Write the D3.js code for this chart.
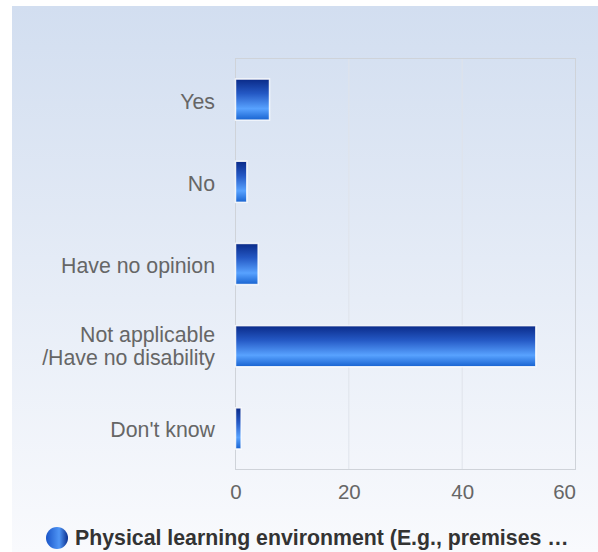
<!DOCTYPE html>
<html><head><meta charset="utf-8">
<script src="https://cdn.jsdelivr.net/npm/d3@7"></script>
<style>body{margin:0;background:#fff;}svg{display:block;}</style>
</head><body>
<script>
const categories = ["Yes", "No", "Have no opinion", "Not applicable\n/Have no disability", "Don't know"];
const values = [6, 2, 4, 53, 1];
const xTicks = [0, 20, 40, 60];
const seriesName = "Physical learning environment (E.g., premises \u2026";

(function(){
const W = 598, H = 552;
const FONT = "Liberation Sans, Arial, sans-serif";
const svg = d3.select("body").append("svg").attr("width", W).attr("height", H);
const defs = svg.append("defs");
const bg = defs.append("linearGradient").attr("id","bg").attr("x1",0).attr("y1",0).attr("x2",0).attr("y2",1);
bg.append("stop").attr("offset","0%").attr("stop-color","#d2def0");
bg.append("stop").attr("offset","100%").attr("stop-color","#f9fafd");
const bar = defs.append("linearGradient").attr("id","bar").attr("x1",0).attr("y1",0).attr("x2",0).attr("y2",1);
[["0%","#0a2a88"],["35%","#2458c4"],["72%","#58a2ff"],["100%","#1762d0"]].forEach(s=>bar.append("stop").attr("offset",s[0]).attr("stop-color",s[1]));
const lg = defs.append("linearGradient").attr("id","lg").attr("x1",0).attr("y1",0).attr("x2",1).attr("y2",0);
[["0%","#1a55c8"],["60%","#4f95f5"],["100%","#0b2f8e"]].forEach(s=>lg.append("stop").attr("offset",s[0]).attr("stop-color",s[1]));

svg.append("rect").attr("x",12).attr("y",6).attr("width",W-12).attr("height",H-6).attr("fill","url(#bg)");

const pl = 235.5, pr = 575.5, pt = 58.5, pb = 469.5;
const x = d3.scaleLinear().domain([0,60]).range([pl,pr]);
const y = d3.scaleBand().domain(categories).range([pt,pb]).paddingInner(0.5).paddingOuter(0.25);

const g = svg.append("g");
g.selectAll("line.grid").data(xTicks.slice(1,-1)).enter().append("line")
  .attr("x1",d=>x(d)).attr("x2",d=>x(d)).attr("y1",pt).attr("y2",pb)
  .attr("stroke","#dfe3ea").attr("stroke-width",1);
g.append("rect").attr("x",pl).attr("y",pt).attr("width",pr-pl).attr("height",pb-pt)
  .attr("fill","none").attr("stroke","#cfd3d9").attr("stroke-width",1);

g.selectAll("rect.bar").data(values).enter().append("rect")
  .attr("x",x(0)).attr("y",(d,i)=>y(categories[i]))
  .attr("width",d=>x(d)-x(0)).attr("height",y.bandwidth())
  .attr("fill","url(#bar)").attr("stroke","#ffffff").attr("stroke-opacity",0.85).attr("stroke-width",1.5);

categories.forEach(c=>{
  const lines = c.split("\n");
  const cy = y(c) + y.bandwidth()/2;
  const t = svg.append("text").attr("text-anchor","end").attr("fill","#666")
    .attr("font-family",FONT).attr("font-size",21.3);
  lines.forEach((l,i)=>{
    const yy = lines.length === 1 ? cy + 9 : cy + 7.5 + (i - 0.5)*23.5;
    t.append("tspan").attr("x",215).attr("y", yy).text(l);
  });
});

const ax = svg.append("g").attr("transform",`translate(0,${pb})`)
  .call(d3.axisBottom(x).tickValues(xTicks).tickSize(0).tickPadding(15));
ax.select(".domain").remove();
ax.selectAll("text").attr("fill","#666").attr("font-family",FONT).attr("font-size",20.5);
ax.selectAll(".tick").filter(d=>d===xTicks[xTicks.length-1]).select("text").attr("text-anchor","end").attr("dx","0");

svg.append("circle").attr("cx",57).attr("cy",538).attr("r",11).attr("fill","url(#lg)");
svg.append("text").attr("x",75).attr("y",545).attr("fill","#333").attr("font-weight","bold")
  .attr("font-family",FONT).attr("font-size",21.3).text(seriesName);
})();
</script>
</body></html>
